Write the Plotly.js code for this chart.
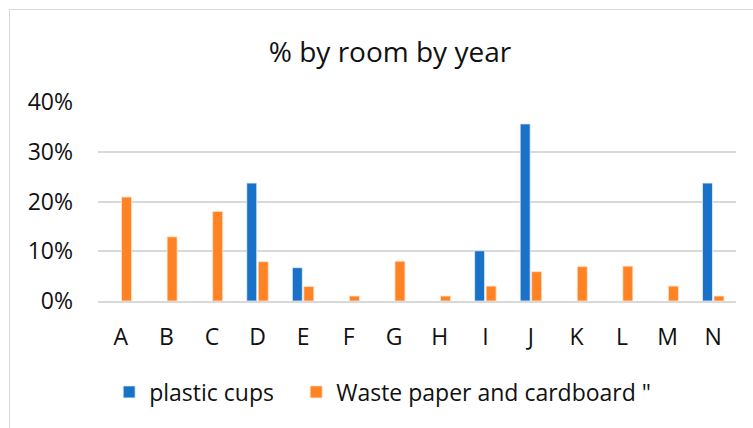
<!DOCTYPE html>
<html>
<head>
<meta charset="utf-8">
<script src="https://cdn.plot.ly/plotly-3.0.1.min.js"></script>
<style>
html,body{margin:0;padding:0;background:#fff;}
#wrap{position:relative;width:753px;height:428px;overflow:hidden;}
#chart{width:753px;height:428px;}
#frame{position:absolute;left:9px;top:9px;width:800px;height:500px;border:1px solid #d9d9d9;pointer-events:none;}
</style>
</head>
<body>
<div id="wrap"><div id="chart"></div><div id="frame"></div></div>
<script>
var categories = ["A","B","C","D","E","F","G","H","I","J","K","L","M","N"];
var plasticCups = [null,null,null,0.237,0.067,null,null,null,0.101,0.356,null,null,null,0.237];
var wastePaper = [0.209,0.129,0.180,0.079,0.029,0.010,0.080,0.010,0.030,0.059,0.069,0.070,0.030,0.010];
var yTickVals = [0,0.1,0.2,0.3,0.4];
var yTickText = ["0%","10%","20%","30%","40%"];

var font = "Open Sans, Lato, sans-serif";
var traces = [
  {type:"bar", name:"plastic cups", x:categories, y:plasticCups, legendwidth:142,
   marker:{color:"#1a72c8", line:{color:"#e8f0fa", width:0.8}}},
  {type:"bar", name:"Waste paper and cardboard \"", x:categories, y:wastePaper,
   marker:{color:"#ff8225", line:{color:"#ffe3cc", width:0.8}}}
];
var layout = {
  width:753, height:428,
  margin:{l:98, r:17, t:102, b:127, pad:0},
  paper_bgcolor:"#ffffff", plot_bgcolor:"#ffffff",
  barmode:"group", bargap:0.495, bargroupgap:0.13,
  title:{text:"% by room by year", font:{family:font, size:28, color:"#111"},
         x:390/753, xanchor:"center", y:1-52/428, yanchor:"middle", yref:"container"},
  xaxis:{type:"category", showgrid:false, showline:true, linecolor:"#d9d9d9", linewidth:2,
         ticks:"", tickfont:{family:font, size:23, color:"#111"}, ticklabelstandoff:14},
  yaxis:{range:[0,0.4], tickvals:yTickVals, ticktext:yTickText, showgrid:true,
         gridcolor:"#d9d9d9", gridwidth:2, zeroline:false, showline:false, ticks:"",
         tickfont:{family:font, size:23, color:"#111"}, ticklabelstandoff:24},
  showlegend:true,
  legend:{orientation:"h", x:0.0175, xanchor:"left", y:-0.457, yanchor:"middle",
          font:{family:font, size:23, color:"#111"}, itemwidth:30, tracegroupgap:0,
          bgcolor:"rgba(0,0,0,0)"},
  font:{family:font}
};
Plotly.newPlot("chart", traces, layout, {displayModeBar:false, staticPlot:true});
</script>
</body>
</html>
